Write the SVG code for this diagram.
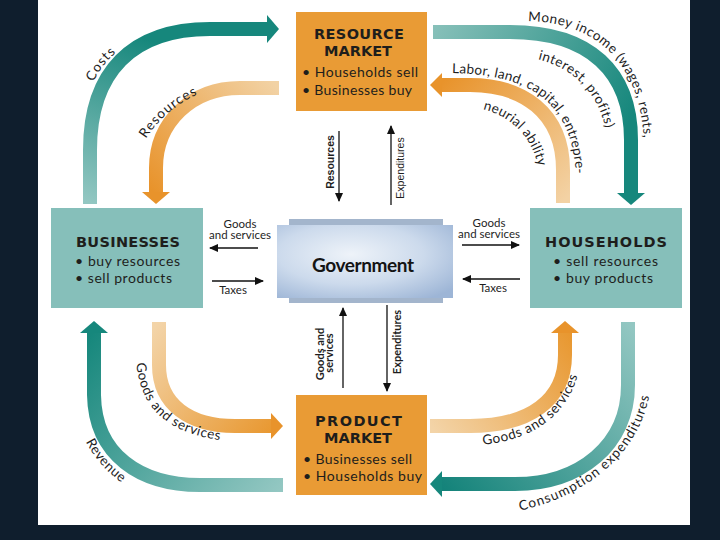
<svg xmlns="http://www.w3.org/2000/svg" width="720" height="540" viewBox="0 0 720 540">
<style>
.title{font-family:"DejaVu Sans","Liberation Sans",sans-serif;font-weight:bold;font-size:14.5px;fill:#1e1e1c;text-anchor:middle}
.bul{font-family:Lato,"Liberation Sans",sans-serif;font-size:14px;fill:#1e1e1c}
.lbl{font-family:Lato,"Liberation Sans",sans-serif;font-size:13.5px;fill:#1e1e1e}
.sm{font-family:Lato,"Liberation Sans",sans-serif;font-size:11.5px;fill:#1e1e1e;text-anchor:middle}
.vt{font-family:"Liberation Sans",Arial,sans-serif;font-size:10.5px;fill:#1e1e1e;text-anchor:middle}
.vb{font-family:Lato,"Liberation Sans",sans-serif;font-size:11px;font-weight:bold;fill:#1e1e1e;text-anchor:middle}
.band{fill:none;stroke-width:14}
.thin{fill:none;stroke:#111;stroke-width:1.3;marker-end:url(#ah)}
.orange{fill:#e99b35}
.teal{fill:#86bfba}
.headT{fill:#16877c}
.headO{fill:#e8932b}
</style>
<defs>
<marker id="ah" markerUnits="userSpaceOnUse" markerWidth="9" markerHeight="8" refX="8" refY="4" orient="auto">
<path d="M0,0 L9,4 L0,8 z" fill="#111"/>
</marker>
<linearGradient id="gCosts" gradientUnits="userSpaceOnUse" x1="90" y1="203" x2="150" y2="40"><stop offset="0" stop-color="#93c7c2"/><stop offset="1" stop-color="#16877c"/></linearGradient>
<linearGradient id="gRes" gradientUnits="userSpaceOnUse" x1="278" y1="88" x2="156" y2="195"><stop offset="0" stop-color="#f2d2a4"/><stop offset="1" stop-color="#e8932b"/></linearGradient>
<linearGradient id="gMoney" gradientUnits="userSpaceOnUse" x1="433" y1="31" x2="625" y2="130"><stop offset="0" stop-color="#87c0b9"/><stop offset="1" stop-color="#16877c"/></linearGradient>
<linearGradient id="gLabor" gradientUnits="userSpaceOnUse" x1="563" y1="202" x2="440" y2="85"><stop offset="0" stop-color="#f3d2a4"/><stop offset="1" stop-color="#e8932b"/></linearGradient>
<linearGradient id="gGoodsL" gradientUnits="userSpaceOnUse" x1="159" y1="322" x2="280" y2="426"><stop offset="0" stop-color="#f3d4a8"/><stop offset="1" stop-color="#e8972f"/></linearGradient>
<linearGradient id="gRev" gradientUnits="userSpaceOnUse" x1="283" y1="485" x2="94" y2="330"><stop offset="0" stop-color="#93c7c2"/><stop offset="1" stop-color="#16877c"/></linearGradient>
<linearGradient id="gGoodsR" gradientUnits="userSpaceOnUse" x1="430" y1="426" x2="565" y2="325"><stop offset="0" stop-color="#f3d4a8"/><stop offset="1" stop-color="#e8972f"/></linearGradient>
<linearGradient id="gCons" gradientUnits="userSpaceOnUse" x1="628" y1="322" x2="440" y2="484"><stop offset="0" stop-color="#93c7c2"/><stop offset="1" stop-color="#14837a"/></linearGradient>
<radialGradient id="gGov" cx="0.42" cy="0.4" r="0.75"><stop offset="0" stop-color="#eef3f9"/><stop offset="0.55" stop-color="#ccdaec"/><stop offset="1" stop-color="#9db5d6"/></radialGradient>
<path id="tpCosts" d="M 88 98 Q 96 64 130 42"/>
<path id="tpRes" d="M 142 145 Q 163 108 205 91"/>
<path id="tpMoney" d="M 525 21 C 600 21, 644 68, 644 150"/>
<path id="tpInterest" d="M 532 58 C 574 66, 604 96, 608 145"/>
<path id="tpLabor" d="M 450 73 C 528 74, 575 100, 576 182"/>
<path id="tpNeurial" d="M 481 109 C 509 115, 534 136, 539 172"/>
<path id="tpGoodsL" d="M 136 355 C 137 406, 165 438, 240 442"/>
<path id="tpRev" d="M 79 424 C 87 452, 107 476, 138 493"/>
<path id="tpGoodsR" d="M 480 445 C 531 441, 573 416, 581 360"/>
<path id="tpCons" d="M 518 511 C 591 496, 649 446, 651 378"/>
</defs>

<rect x="0" y="0" width="720" height="540" fill="#0f1e2d"/>
<rect x="38" y="0" width="652" height="525" fill="#ffffff"/>

<g id="flows">
<path class="band" stroke="url(#gCosts)" d="M 90 204 L 90 150 C 90 72, 132 29, 210 29 L 268 29"/>
<polygon class="headT" points="267,15 279,29 267,43"/>
<path class="band" stroke="url(#gRes)" stroke-width="12" d="M 279 88 L 240 88 C 192 88, 156 122, 156 168 L 156 193"/>
<polygon class="headO" points="142,192 170,192 156,204"/>
<path class="band" stroke="url(#gMoney)" d="M 433 32 L 510 32 C 590 32, 631 72, 631 140 L 631 194"/>
<polygon class="headT" points="617,193 645,193 631,205"/>
<path class="band" stroke="url(#gLabor)" stroke-width="13" d="M 563 203 L 563 170 C 563 112, 522 85, 470 85 L 442 85"/>
<polygon class="headO" points="442,73 442,97 430,85"/>
<path class="band" stroke="url(#gGoodsL)" d="M 159 322 L 159 365 C 159 405, 190 426, 235 426 L 271 426"/>
<polygon class="headO" points="271,413 271,439 283,426"/>
<path class="band" stroke="url(#gRev)" d="M 283 485 L 200 485 C 140 485, 95 455, 94 395 L 94 333"/>
<polygon class="headT" points="80,333 108,333 94,321"/>
<path class="band" stroke="url(#gGoodsR)" d="M 430 426 L 470 426 C 530 426, 565 400, 565 355 L 565 333"/>
<polygon class="headO" points="551,333 579,333 565,321"/>
<path class="band" stroke="url(#gCons)" d="M 628 322 L 628 385 C 628 445, 580 484, 515 484 L 442 484"/>
<polygon class="headT" points="442,471 442,497 430,484"/>

<text class="lbl" font-size="14" letter-spacing="1"><textPath href="#tpCosts" startOffset="50%" text-anchor="middle">Costs</textPath></text>
<text class="lbl" letter-spacing="1.1"><textPath href="#tpRes" startOffset="50%" text-anchor="middle">Resources</textPath></text>
<text class="lbl" letter-spacing="0.5"><textPath href="#tpMoney" startOffset="3">Money income (wages, rents,</textPath></text>
<text class="lbl" letter-spacing="0.5"><textPath href="#tpInterest" startOffset="6">interest, profits)</textPath></text>
<text class="lbl" letter-spacing="0.3"><textPath href="#tpLabor" startOffset="2">Labor, land, capital, entrepre-</textPath></text>
<text class="lbl" letter-spacing="0.3"><textPath href="#tpNeurial" startOffset="2">neurial ability</textPath></text>
<text class="lbl" letter-spacing="0.6"><textPath href="#tpGoodsL" startOffset="8">Goods and services</textPath></text>
<text class="lbl" letter-spacing="0.6"><textPath href="#tpRev" startOffset="50%" text-anchor="middle">Revenue</textPath></text>
<text class="lbl" letter-spacing="0.6"><textPath href="#tpGoodsR" startOffset="3">Goods and services</textPath></text>
<text class="lbl" letter-spacing="1"><textPath href="#tpCons" startOffset="2">Consumption expenditures</textPath></text>
</g>

<g id="connectors">
<path class="thin" d="M 258 248 L 210 248"/>
<path class="thin" d="M 212 281 L 263 281"/>
<path class="thin" d="M 462 245 L 519 245"/>
<path class="thin" d="M 520 279 L 463 279"/>
<path class="thin" d="M 339 131 L 339 201"/>
<path class="thin" d="M 391 205 L 391 126"/>
<path class="thin" d="M 343 388 L 343 308"/>
<path class="thin" d="M 387 305 L 387 391"/>
<text class="sm" x="240" y="228">Goods</text>
<text class="sm" x="240" y="239">and services</text>
<text class="sm" x="233" y="294">Taxes</text>
<text class="sm" x="489" y="227">Goods</text>
<text class="sm" x="489" y="238">and services</text>
<text class="sm" x="493" y="292">Taxes</text>
<text class="vt" font-weight="bold" transform="translate(334,162) rotate(-90)">Resources</text>
<text class="vt" transform="translate(404,168) rotate(-90)">Expenditures</text>
<text class="vb" transform="translate(324,354) rotate(-90)">Goods and</text>
<text class="vb" transform="translate(333,353) rotate(-90)">services</text>
<text class="vb" transform="translate(401,342) rotate(-90)">Expenditures</text>
</g>

<g id="resource-market">
<rect class="orange" x="296" y="12" width="131" height="99"/>
<text class="title" x="359" y="39" textLength="90">RESOURCE</text>
<text class="title" x="358" y="56" textLength="68">MARKET</text>
<text class="bul" x="302" y="77" textLength="116">• Households sell</text>
<text class="bul" x="302" y="95" textLength="110">• Businesses buy</text>
</g>

<g id="product-market">
<rect class="orange" x="296" y="395" width="131" height="100"/>
<text class="title" x="358.5" y="426" textLength="87">PRODUCT</text>
<text class="title" x="358" y="443" textLength="68">MARKET</text>
<text class="bul" x="303" y="464" textLength="109">• Businesses sell</text>
<text class="bul" x="303" y="481" textLength="119">• Households buy</text>
</g>

<g id="businesses">
<rect class="teal" x="51" y="208" width="152" height="100"/>
<text class="title" x="128" y="247" textLength="104">BUSINESSES</text>
<text class="bul" x="75" y="266" textLength="105">• buy resources</text>
<text class="bul" x="75" y="283" textLength="97">• sell products</text>
</g>

<g id="households">
<rect class="teal" x="530" y="208" width="152" height="100"/>
<text class="title" x="606" y="247" textLength="122">HOUSEHOLDS</text>
<text class="bul" x="553" y="266" textLength="105">• sell resources</text>
<text class="bul" x="553" y="283" textLength="100">• buy products</text>
</g>

<g id="government">
<rect x="289" y="219" width="154" height="84" fill="#a3b5cc"/>
<rect x="277" y="225" width="176" height="73" fill="url(#gGov)"/>
<text x="363" y="272" textLength="102" style="font-family:Lato,'Liberation Sans',sans-serif;font-weight:bold;font-size:19px;fill:#141414;text-anchor:middle">Government</text>
</g>
</svg>
